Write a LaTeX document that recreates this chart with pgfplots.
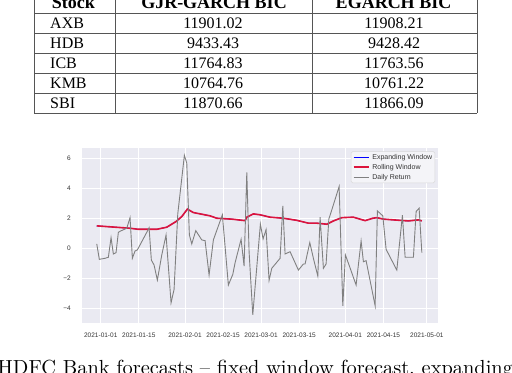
\documentclass[border=0pt]{standalone}
\usepackage{fontspec}
\newfontfamily\tabfont{Liberation Serif}
\newfontfamily\chartfont{Liberation Sans}
\newfontfamily\capfont{lmroman10-regular.otf}
\usepackage{pgfplots}
\pgfplotsset{compat=1.18}
\definecolor{sbbg}{HTML}{EAEAF2}
\definecolor{tablegray}{HTML}{555555}
\definecolor{crim}{HTML}{DC143C}
\definecolor{sbtext}{HTML}{333333}
\begin{document}
\begin{tikzpicture}[x=1bp,y=1bp]
\useasboundingbox (0,0) rectangle (512,372);
\clip (0,0) rectangle (512,372);
% ---- table ----
\begin{scope}[draw=tablegray, line width=1bp]
\foreach \yy in {13.3,33.3,53.3,73.3,93.3,113.3} \draw (34,{372-\yy}) -- (477,{372-\yy});
\foreach \xx in {34,115,312,477} \draw (\xx,380) -- (\xx,{372-113.3});
\end{scope}
\begin{scope}[every node/.style={inner sep=0pt, font=\tabfont\fontsize{16bp}{18bp}\selectfont}]
\node[anchor=base west, font=\tabfont\fontsize{18bp}{20bp}\selectfont] at (51.7,363.7) {\bfseries Stock};
\node[anchor=base, font=\tabfont\fontsize{18bp}{20bp}\selectfont] at (214,363.7) {\bfseries GJR-GARCH BIC};
\node[anchor=base, font=\tabfont\fontsize{18bp}{20bp}\selectfont] at (393.5,363.7) {\bfseries EGARCH BIC};
\node[anchor=base west] at (50,{372-28.3}) {AXB};
\node[anchor=base] at (213,{372-28.3}) {11901.02};
\node[anchor=base] at (394,{372-28.3}) {11908.21};
\node[anchor=base west] at (50,{372-48.3}) {HDB};
\node[anchor=base] at (213,{372-48.3}) {9433.43};
\node[anchor=base] at (394,{372-48.3}) {9428.42};
\node[anchor=base west] at (50,{372-68.3}) {ICB};
\node[anchor=base] at (213,{372-68.3}) {11764.83};
\node[anchor=base] at (394,{372-68.3}) {11763.56};
\node[anchor=base west] at (50,{372-88.3}) {KMB};
\node[anchor=base] at (213,{372-88.3}) {10764.76};
\node[anchor=base] at (394,{372-88.3}) {10761.22};
\node[anchor=base west] at (50,{372-108.3}) {SBI};
\node[anchor=base] at (213,{372-108.3}) {11870.66};
\node[anchor=base] at (394,{372-108.3}) {11866.09};
\end{scope}
% ---- caption ----
\node[anchor=base west, inner sep=0pt, font=\capfont\fontsize{20.4bp}{24bp}\selectfont] at (-2.5,-2.7) {HDFC Bank forecasts – fixed window forecast, expanding window forecast};
% ---- chart ----
\begin{axis}[
  at={(82bp,49bp)}, anchor=south west,
  width=356bp, height=175bp, scale only axis,
  xmin=-6.9, xmax=124.1, ymin=-5.0, ymax=6.71,
  axis background/.style={fill=sbbg},
  axis line style={draw=none},
  major tick length=0pt,
  grid=major, grid style={white, line width=1bp},
  xtick={0,14,31,45,59,73,90,104,120},
  xticklabels={2021-01-01,2021-01-15,2021-02-01,2021-02-15,2021-03-01,2021-03-15,2021-04-01,2021-04-15,2021-05-01},
  ytick={-4,-2,0,2,4,6},
  yticklabels={−4,−2,0,2,4,6},
  ticklabel style={font=\chartfont\fontsize{6.5bp}{7bp}\selectfont, text=sbtext},
  yticklabel style={xshift=-7.8bp},
  xticklabel style={yshift=-6bp},
  legend style={at={(0.9916,0.981)}, anchor=north east, fill=sbbg!50!white, draw=black!15, line width=0.5bp, rounded corners=1.5bp,
    font=\chartfont\fontsize{7bp}{8bp}\selectfont, text=sbtext, inner xsep=1.5bp, inner ysep=1.5bp,
    nodes={inner sep=1bp, text height=5bp, text depth=1.4bp}, column sep=2bp, row sep=1.6bp},
  legend cell align=left,
  legend image code/.code={\draw[#1] (0bp,0bp) -- (15bp,0bp);},
]
\addplot[blue, line width=0.8bp] coordinates {
(-1.47,1.50) (10.78,1.34) (13.84,1.27) (20.61,1.27) (24.29,1.41) (27.71,1.79) (29.81,2.12) (31.87,2.62) (34.08,2.39) (40.23,2.17) (42.69,2.01) (48.21,1.95) (53.11,1.85) (53.74,2.08) (56.16,2.30) (58.63,2.24) (62.31,2.08) (67.21,2.01) (72.14,1.87) (76.41,1.68) (79.50,1.68) (83.18,1.61) (85.61,1.83) (88.70,2.05) (92.97,2.08) (97.28,1.85) (100.11,2.01) (101.58,2.05) (104.01,1.95) (107.69,1.90) (113.21,1.83) (116.89,1.90) (118.15,1.83)
};
\addlegendentry{Expanding Window}
\addplot[crim, line width=1.6bp] coordinates {
(-1.47,1.50) (10.78,1.34) (13.84,1.27) (20.61,1.27) (24.29,1.41) (27.71,1.79) (29.81,2.12) (31.87,2.62) (34.08,2.39) (40.23,2.17) (42.69,2.01) (48.21,1.95) (53.11,1.85) (53.74,2.08) (56.16,2.30) (58.63,2.24) (62.31,2.08) (67.21,2.01) (72.14,1.87) (76.41,1.68) (79.50,1.68) (83.18,1.61) (85.61,1.83) (88.70,2.05) (92.97,2.08) (97.28,1.85) (100.11,2.01) (101.58,2.05) (104.01,1.95) (107.69,1.90) (113.21,1.83) (116.89,1.90) (118.15,1.83)
};
\addlegendentry{Rolling Window}
\addplot[gray, line width=0.9bp] coordinates {
(-1.47,0.29) (-0.52,-0.74) (1.58,-0.67) (2.80,-0.60) (3.79,0.71) (4.64,-0.38) (5.63,-0.29) (6.48,1.07) (7.36,1.16) (9.57,1.34) (10.78,2.05) (11.63,-0.67) (12.62,-0.18) (13.47,-0.11) (15.09,0.44) (16.93,1.07) (17.78,1.38) (18.62,-0.79) (19.62,-1.12) (20.83,-2.13) (22.45,-0.45) (24.03,0.89) (25.87,-3.65) (26.98,-2.75) (28.34,2.30) (30.77,6.22) (31.65,5.70) (32.61,0.89) (33.49,0.29) (34.96,1.18) (37.17,0.56) (38.39,0.51) (39.86,-1.79) (41.44,0.56) (44.75,2.24) (46.96,-2.46) (48.58,-1.75) (49.43,-0.97) (51.64,0.60) (52.74,-1.19) (53.74,5.07) (54.58,-0.23) (55.94,-4.45) (58.74,1.62) (59.73,0.63) (60.84,1.25) (61.94,-2.15) (62.93,-1.34) (65.99,-0.67) (66.99,2.84) (67.83,-0.38) (69.67,-0.23) (72.73,-1.46) (74.57,-1.05) (75.19,-1.05) (76.92,0.38) (78.25,-0.67) (79.87,-1.86) (80.71,2.08) (81.93,-1.34) (82.92,-1.05) (83.92,1.95) (85.02,2.57) (87.71,4.13) (89.07,-3.85) (90.03,-0.45) (91.50,-1.19) (93.96,-2.46) (95.80,0.49) (96.65,-0.90) (97.64,-0.83) (100.96,-3.85) (101.80,2.50) (103.79,2.17) (105.00,-0.07) (108.94,-1.46) (111.00,2.21) (112.00,-0.60) (115.05,-0.60) (116.05,2.46) (117.15,2.68) (118.15,-0.29)
};
\addlegendentry{Daily Return}
\end{axis}
\end{tikzpicture}
\end{document}
